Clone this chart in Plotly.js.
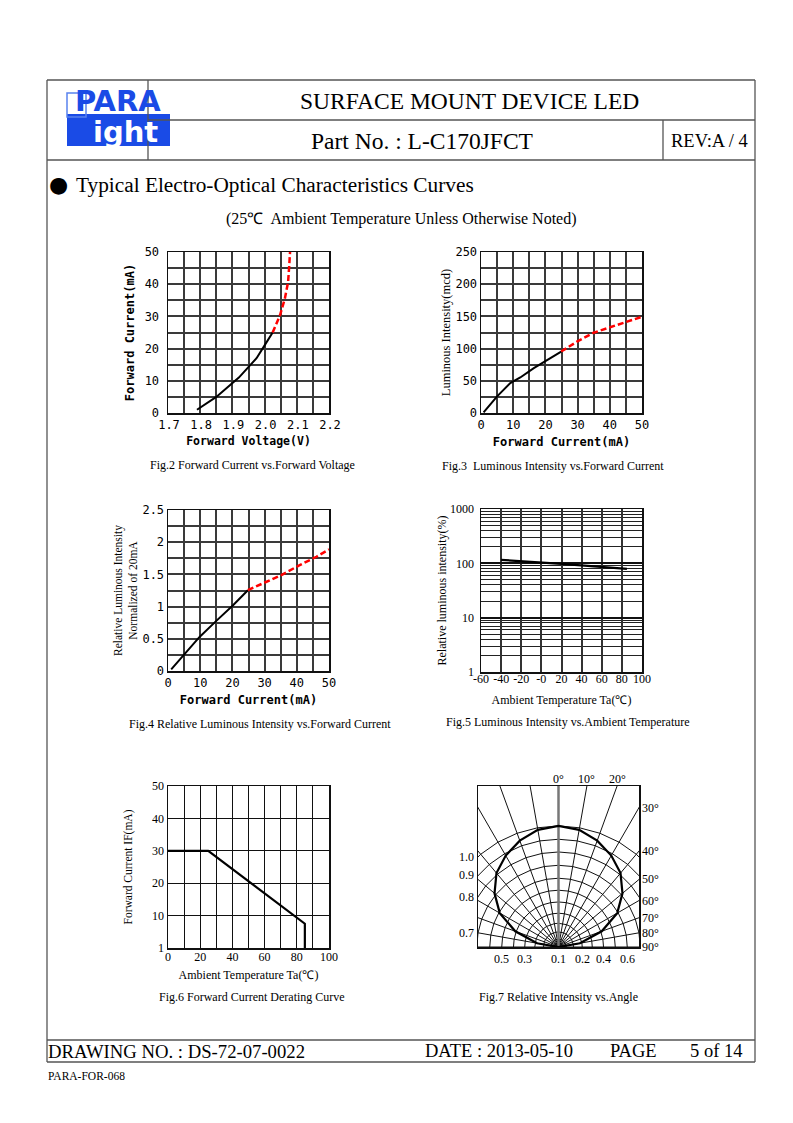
<!DOCTYPE html>
<html>
<head>
<meta charset="utf-8">
<script src="https://cdn.plot.ly/plotly-3.0.1.min.js"></script>
<style>
html,body{margin:0;padding:0;background:#fff;}
#chart{width:793px;height:1123px;}
</style>
</head>
<body>
<div id="chart"></div>
<script>
// ---------- DATA ----------
// Fig.2 Forward Current vs Forward Voltage
const fig2VoltSolid = [1.79, 1.85, 1.92, 1.975, 2.0, 2.025];
const fig2CurrSolid = [1, 5, 11, 17, 21, 25];
const fig2VoltDash  = [2.025, 2.048, 2.063, 2.073, 2.076, 2.079];
const fig2CurrDash  = [25, 30.4, 35.6, 40.7, 45, 50];

// Fig.3 Luminous Intensity vs Forward Current
const fig3CurrSolid = [0.8, 5, 9.1, 12.2, 16.4, 20, 24.9];
const fig3IvSolid   = [1, 25.8, 46.4, 55.2, 69.6, 81, 95.4];
const fig3CurrDash  = [24.9, 29.8, 35, 40.2, 45.3, 50];
const fig3IvDash    = [95.4, 110.8, 124.7, 133, 141.8, 149.5];

// Fig.4 Relative Luminous Intensity vs Forward Current
const fig4CurrSolid = [1, 4.7, 9.8, 15, 20.2, 24.8];
const fig4RelSolid  = [0.026, 0.244, 0.529, 0.778, 1.02, 1.255];
const fig4CurrDash  = [24.8, 30.5, 35.2, 40.9, 46.1, 50];
const fig4RelDash   = [1.255, 1.385, 1.49, 1.644, 1.774, 1.888];

// Fig.5 Luminous Intensity vs Ambient Temperature
const fig5Temp = [-40, 20, 85];
const fig5Rel  = [116, 98, 79];
const fig5XTickVals = [-60, -40, -20, 0, 20, 40, 60, 80, 100];
const fig5XTickText = ['-60', '-40', '-20', '-0', '20', '40', '60', '80', '100'];
const fig5YTickVals = [1, 10, 100, 1000];
const fig5YTickText = ['1', '10', '100', '1000'];
const fig5YMinor = [2, 3, 4, 5, 6, 7, 8, 9, 20, 30, 40, 50, 60, 70, 80, 90, 200, 300, 400, 500, 600, 700, 800, 900];

// Fig.6 Forward Current Derating Curve
const fig6Temp = [0, 25, 85, 85];
const fig6Curr = [30, 30, 7.5, 0];
const fig6YTickVals = [0, 10, 20, 30, 40, 50];
const fig6YTickText = ['1', '10', '20', '30', '40', '50'];

// Fig.7 Relative Intensity vs Angle
const fig7Angles    = [-90, -80, -70, -60, -50, -40, -30, -20, -10, 0, 10, 20, 30, 40, 50, 60, 70, 80, 90];
const fig7Intensity = [0, 0.18, 0.38, 0.56, 0.69, 0.797, 0.872, 0.935, 0.983, 1.0, 0.983, 0.935, 0.872, 0.797, 0.69, 0.56, 0.38, 0.18, 0];
const fig7GridAngles = [-90, -80, -70, -60, -50, -40, -30, -20, -10, 0, 10, 20, 30, 40, 50, 60, 70, 80, 90];
const fig7ArcRadii  = [0.064, 0.124, 0.196, 0.279, 0.372, 0.469, 0.568, 0.675, 0.785, 0.89, 1.0];
const fig7ArcLabels = ['', '0.1', '0.2', '0.3', '0.4', '0.5', '0.6', '0.7', '0.8', '0.9', '1.0'];
const fig7AngleLabels = [0, 10, 20, 30, 40, 50, 60, 70, 80, 90];

// ---------- HELPERS ----------
const PW = 793, PH = 1123;
const px = v => v / PW;
const py = v => 1 - v / PH;
const serif = 'Liberation Serif, Times New Roman, serif';
const mono = 'DejaVu Sans Mono, monospace';
const gridCol = '#3a3a3a';

function baseAxis(extra) {
  return Object.assign({
    showline: true, mirror: true, linecolor: '#111', linewidth: 1.5,
    showgrid: true, gridcolor: gridCol, gridwidth: 2,
    zeroline: false, ticks: '', ticklen: 0, fixedrange: true,
    tickfont: {family: mono, size: 12, color: '#000'}
  }, extra);
}
const minorGrid = d => ({dtick: d, showgrid: true, gridcolor: gridCol, gridwidth: 2});

const traces = [];
function line(x, y, xa, ya, opts) {
  traces.push(Object.assign({
    type: 'scatter', mode: 'lines', x: x, y: y, xaxis: xa, yaxis: ya,
    hoverinfo: 'skip', showlegend: false
  }, opts));
}
const solid = {line: {color: '#000', width: 2}};
const dashed = {line: {color: '#ff0000', width: 2.5, dash: '6px,3px'}};

// Fig.2
line(fig2VoltSolid, fig2CurrSolid, 'x', 'y', solid);
line(fig2VoltDash, fig2CurrDash, 'x', 'y', dashed);
// Fig.3
line(fig3CurrSolid, fig3IvSolid, 'x2', 'y2', solid);
line(fig3CurrDash, fig3IvDash, 'x2', 'y2', dashed);
// Fig.4
line(fig4CurrSolid, fig4RelSolid, 'x3', 'y3', solid);
line(fig4CurrDash, fig4RelDash, 'x3', 'y3', dashed);
// Fig.5
line(fig5Temp, fig5Rel, 'x4', 'y4', {line: {color: '#000', width: 2.2}});
// Fig.6
line(fig6Temp, fig6Curr, 'x5', 'y5', {line: {color: '#000', width: 2.2}});

// Fig.7 geometry
const halfW = 0.665, boxH = 1.33;
const rad = d => d * Math.PI / 180;
(function () {
  const rx = [], ry = [];
  fig7GridAngles.forEach(a => {
    if (a === 0) return;
    rx.push(0, 3 * Math.sin(rad(a)), null);
    ry.push(0, 3 * Math.cos(rad(a)), null);
  });
  line(rx, ry, 'x6', 'y6', {line: {color: '#111', width: 1}});
  const ax = [], ay = [];
  fig7ArcRadii.forEach(r => {
    fig7GridAngles.forEach(a => { ax.push(r * Math.sin(rad(a))); ay.push(r * Math.cos(rad(a))); });
    ax.push(null); ay.push(null);
  });
  line(ax, ay, 'x6', 'y6', {line: {color: '#111', width: 1}});
  line([0, 0], [0, 3], 'x6', 'y6', {line: {color: '#777', width: 2.5}});
  const cx = fig7Angles.map((a, i) => fig7Intensity[i] * Math.sin(rad(a)));
  const cy = fig7Angles.map((a, i) => fig7Intensity[i] * Math.cos(rad(a)));
  line(cx, cy, 'x6', 'y6', {line: {color: '#000', width: 2.2}});
})();

// ---------- ANNOTATIONS ----------
const ann = [];
function txt(text, x, y, size, opts) {
  ann.push(Object.assign({
    text: text, x: px(x), y: py(y), xref: 'paper', yref: 'paper',
    showarrow: false, xanchor: 'left', yanchor: 'middle',
    font: {family: serif, size: size, color: '#000'}
  }, opts || {}));
}
// Header
txt('SURFACE MOUNT DEVICE LED', 469, 101, 23.5, {xanchor: 'center'});
txt('Part No. : L-C170JFCT', 422, 141, 23.5, {xanchor: 'center'});
txt('REV:A / 4', 709, 141, 18.5, {xanchor: 'center'});
// Logo text
txt('PARA', 73, 101, 29, {font: {family: 'DejaVu Sans', size: 29, color: '#1a4be6', weight: 'bold'}});
txt('ight', 91, 132, 29, {font: {family: 'DejaVu Sans', size: 29, color: '#ffffff', weight: 'bold'}});
// Section
txt('●', 47, 185, 22, {font: {family: 'DejaVu Sans', size: 22, color: '#000'}});
txt('Typical Electro-Optical Characteristics Curves', 74, 185, 21.3);
txt('(25℃  Ambient Temperature Unless Otherwise Noted)', 401, 219, 16, {xanchor: 'center'});
// Captions
txt('Fig.2 Forward Current vs.Forward Voltage', 252, 465, 12, {xanchor: 'center'});
txt('Fig.3  Luminous Intensity vs.Forward Current', 553, 466, 12, {xanchor: 'center'});
txt('Fig.4 Relative Luminous Intensity vs.Forward Current', 260, 724, 12, {xanchor: 'center'});
txt('Fig.5 Luminous Intensity vs.Ambient Temperature', 568, 722, 12, {xanchor: 'center'});
txt('Fig.6 Forward Current Derating Curve', 252, 997, 12, {xanchor: 'center'});
txt('Fig.7 Relative Intensity vs.Angle', 558, 997, 12, {xanchor: 'center'});
// Footer
txt('DRAWING NO. : DS-72-07-0022', 46, 1051, 18.7);
txt('DATE : 2013-05-10', 423, 1051, 18.5);
txt('PAGE', 608, 1051, 18.5);
txt('5 of 14', 688, 1051, 18.5);
txt('PARA-FOR-068', 46, 1076, 11.5);

// Fig.7 labels (data coords)
fig7AngleLabels.forEach(a => {
  const s = Math.sin(rad(a)), c = Math.cos(rad(a));
  const tTop = c > 1e-9 ? boxH / c : Infinity;
  const tSide = s > 1e-9 ? halfW / s : Infinity;
  if (tTop <= tSide) {
    ann.push({text: a + '°', x: tTop * s, y: boxH, xref: 'x6', yref: 'y6', showarrow: false,
      xanchor: 'center', yanchor: 'bottom', yshift: -2, font: {family: serif, size: 12, color: '#000'}});
  } else {
    ann.push({text: a + '°', x: halfW, y: tSide * c, xref: 'x6', yref: 'y6', showarrow: false,
      xanchor: 'left', yanchor: 'middle', xshift: 1, font: {family: serif, size: 12, color: '#000'}});
  }
});
fig7ArcRadii.forEach((r, i) => {
  const lab = fig7ArcLabels[i];
  if (!lab) return;
  const v = parseFloat(lab);
  if (r > halfW) {
    ann.push({text: lab, x: -halfW, y: Math.sqrt(r * r - halfW * halfW), xref: 'x6', yref: 'y6', showarrow: false,
      xanchor: 'right', yanchor: 'middle', xshift: -2, font: {family: serif, size: 12, color: '#000'}});
  } else {
    const k = Math.round(v * 10);
    const xPos = k === 1 ? 0 : (k % 2 === 0 ? r : -r);
    ann.push({text: lab, x: xPos, y: 0, xref: 'x6', yref: 'y6', showarrow: false,
      xanchor: 'center', yanchor: 'top', yshift: -3, font: {family: serif, size: 12, color: '#000'}});
  }
});

// ---------- SHAPES (page frame) ----------
const shapes = [];
function seg(x0, y0, x1, y1, w, col) {
  shapes.push({type: 'line', xref: 'paper', yref: 'paper', x0: px(x0), y0: py(y0), x1: px(x1), y1: py(y1),
    line: {color: col || '#555', width: w || 1.3}});
}
seg(47, 80, 755, 80);
seg(47, 80, 47, 1062);
seg(755, 80, 755, 1062);
seg(148, 120, 755, 120);
seg(47, 160, 755, 160);
seg(148, 80, 148, 160);
seg(663, 120, 663, 160);
seg(47, 1040, 755, 1040);
seg(47, 1062, 755, 1062);
// logo blocks
shapes.push({type: 'rect', xref: 'paper', yref: 'paper', x0: px(67), x1: px(170), y0: py(146), y1: py(114),
  fillcolor: '#1a4be6', line: {width: 0}, layer: 'below'});
shapes.push({type: 'rect', xref: 'paper', yref: 'paper', x0: px(67), x1: px(86), y0: py(117), y1: py(93),
  fillcolor: 'rgba(0,0,0,0)', line: {color: '#5a82ee', width: 1.5}, layer: 'below'});

// ---------- LAYOUT ----------
const layout = {
  width: PW, height: PH, margin: {l: 0, r: 0, t: 0, b: 0},
  paper_bgcolor: '#fff', plot_bgcolor: '#fff', showlegend: false,
  font: {family: serif, color: '#000'},
  annotations: ann, shapes: shapes,
  // Fig.2
  xaxis: baseAxis({domain: [px(168), px(329)], anchor: 'y', range: [1.7, 2.2], tick0: 1.7, dtick: 0.1, tickformat: '.1f',
    ticklabelshift: 1, minor: minorGrid(0.05),
    title: {text: 'Forward Voltage(V)', standoff: 6, font: {family: mono, size: 11.5, weight: 'bold', color: '#000'}}}),
  yaxis: baseAxis({domain: [py(413), py(252)], anchor: 'x', range: [0, 50], dtick: 10, ticklabelstandoff: 5,
    minor: minorGrid(5),
    title: {text: 'Forward Current(mA)', standoff: 7, font: {family: mono, size: 12, weight: 'bold', color: '#000'}}}),
  // Fig.3
  xaxis2: baseAxis({domain: [px(481), px(642)], anchor: 'y2', range: [0, 50], dtick: 10,
    minor: minorGrid(5),
    title: {text: 'Forward Current(mA)', standoff: 6, font: {family: mono, size: 12, weight: 'bold', color: '#000'}}}),
  yaxis2: baseAxis({domain: [py(413), py(252)], anchor: 'x2', range: [0, 250], dtick: 50,
    minor: minorGrid(25),
    title: {text: 'Luminous Intensity(mcd)', standoff: 2, font: {family: serif, size: 12.5, color: '#000'}}}),
  // Fig.4
  xaxis3: baseAxis({domain: [px(168), px(329)], anchor: 'y3', range: [0, 50], dtick: 10,
    minor: minorGrid(5),
    title: {text: 'Forward Current(mA)', standoff: 6, font: {family: mono, size: 12, weight: 'bold', color: '#000'}}}),
  yaxis3: baseAxis({domain: [py(671), py(510)], anchor: 'x3', range: [0, 2.5], dtick: 0.5,
    minor: minorGrid(0.25),
    title: {text: 'Relative Luminous Intensity<br>Normalized of 20mA', standoff: 2, font: {family: serif, size: 11.5, color: '#000'}}}),
  // Fig.5
  xaxis4: baseAxis({domain: [px(481), px(642)], anchor: 'y4', range: [-60, 100], ticklabelstandoff: -5,
    tickmode: 'array', tickvals: fig5XTickVals, ticktext: fig5XTickText, gridcolor: '#333', gridwidth: 2,
    tickfont: {family: serif, size: 12, color: '#000'},
    title: {text: 'Ambient Temperature Ta(℃)', standoff: 10, font: {family: serif, size: 12, color: '#000'}}}),
  yaxis4: baseAxis({domain: [py(672), py(509)], anchor: 'x4', type: 'log', range: [0, 3], ticklabelstandoff: 3,
    tickmode: 'array', tickvals: fig5YTickVals, ticktext: fig5YTickText, gridcolor: '#111', gridwidth: 2,
    minor: {tickmode: 'array', tickvals: fig5YMinor, showgrid: true, gridcolor: '#222', gridwidth: 1},
    tickfont: {family: serif, size: 12, color: '#000'},
    title: {text: 'Relative luminous intensity(%)', standoff: 1, font: {family: serif, size: 12, color: '#000'}}}),
  // Fig.6
  xaxis5: baseAxis({domain: [px(168), px(329)], anchor: 'y5', range: [0, 100], dtick: 20, gridcolor: '#111', gridwidth: 1,
    ticklabelstandoff: -3,
    minor: {dtick: 10, showgrid: true, gridcolor: '#111', gridwidth: 1},
    tickfont: {family: serif, size: 12, color: '#000'},
    title: {text: 'Ambient Temperature Ta(℃)', standoff: 7, font: {family: serif, size: 12, color: '#000'}}}),
  yaxis5: baseAxis({domain: [py(948), py(786)], anchor: 'x5', range: [0, 50], gridcolor: '#111', gridwidth: 1,
    tickmode: 'array', tickvals: fig6YTickVals, ticktext: fig6YTickText,
    tickfont: {family: serif, size: 12, color: '#000'},
    title: {text: 'Forward Current IF(mA)', standoff: 17, font: {family: serif, size: 11.5, color: '#000'}}}),
  // Fig.7
  xaxis6: {domain: [px(478), px(639)], anchor: 'y6', range: [-halfW, halfW], showgrid: false, zeroline: false,
    showticklabels: false, ticks: '', showline: true, mirror: true, linecolor: '#111', linewidth: 1.5, fixedrange: true},
  yaxis6: {domain: [py(947), py(786)], anchor: 'x6', range: [0, boxH], showgrid: false, zeroline: false,
    showticklabels: false, ticks: '', showline: true, mirror: true, linecolor: '#111', linewidth: 1.5, fixedrange: true}
};

Plotly.newPlot('chart', traces, layout, {staticPlot: true, displayModeBar: false});
</script>
</body>
</html>
